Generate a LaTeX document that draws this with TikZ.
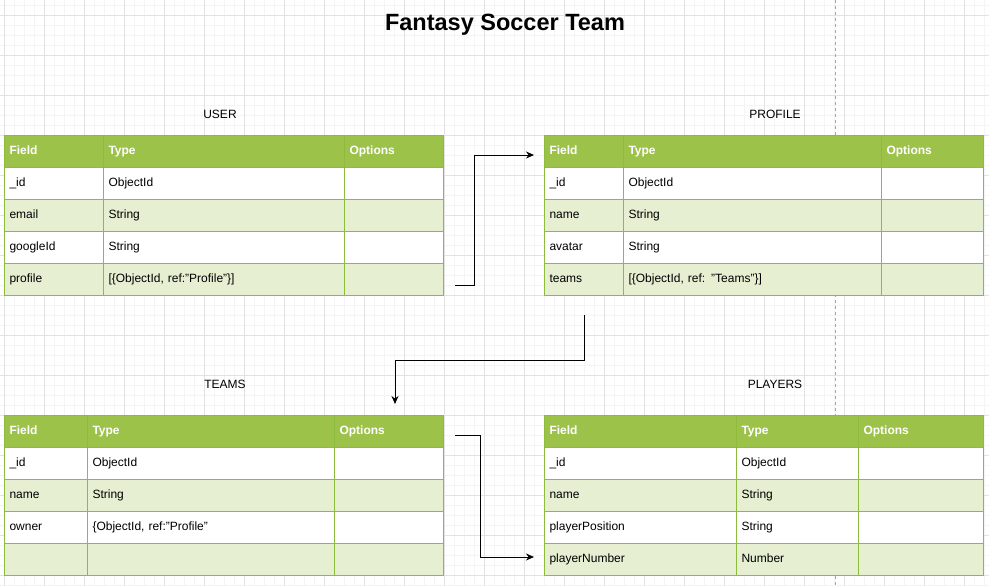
\documentclass[tikz,border=0pt]{standalone}
\usepackage{fontspec}
\setmainfont{Liberation Sans}
\usetikzlibrary{arrows.meta}
\definecolor{hdrg}{HTML}{9CC24A}
\definecolor{lightg}{HTML}{E6EFD1}
\definecolor{bord}{HTML}{8DBB3C}
\definecolor{majg}{HTML}{E2E2E2}
\definecolor{ming}{HTML}{F4F4F4}
\tikzset{
  cellbox/.style={draw=bord, line width=1pt, anchor=north west, minimum height=32pt,
    inner xsep=5pt, inner ysep=0pt, align=left, text height=9pt, text depth=3pt,
    font=\fontsize{12}{14}\selectfont},
  hdrcell/.style={cellbox, fill=hdrg, text=white, font=\fontsize{12}{14}\selectfont\bfseries},
  tlabel/.style={font=\fontsize{12}{14}\selectfont, inner sep=0pt},
  conn/.style={draw=black, line width=1pt, -{Stealth[length=8pt,width=7pt]}},
  minorline/.style={draw=ming, line width=0.6pt},
  majorline/.style={draw=majg, line width=0.8pt}
}
\newcommand\mycell[6]{%
  \pgfmathsetmacro\mytw{#4-10}%
  \node[cellbox, fill=#5, text width=\mytw pt, minimum width=#4pt] (#1) at (#2,#3) {#6};}
\newcommand\myhcell[5]{%
  \pgfmathsetmacro\mytw{#4-10}%
  \node[hdrcell, text width=\mytw pt, minimum width=#4pt] (#1) at (#2,#3) {#5};}
\begin{document}
\begin{tikzpicture}[x=1pt,y=-1pt]
\useasboundingbox (0,0) rectangle (989,586);
\fill[white] (0,0) rectangle (989,586);
% grid
\foreach \x in {4,14,...,984} \draw[minorline] (\x,0) -- (\x,586);
\foreach \y in {5,15,...,585} \draw[minorline] (0,\y) -- (989,\y);
\foreach \x in {4,44,...,984} \draw[majorline] (\x,0) -- (\x,586);
\foreach \y in {15,55,...,575} \draw[majorline] (0,\y) -- (989,\y);
\draw[draw=black!35, line width=0.8pt, dash pattern=on 3pt off 3pt] (835,0) -- (835,586);
% title
\node[font=\fontsize{23.5}{27}\selectfont\bfseries, inner sep=0pt] (title) at (505,25) {Fantasy Soccer Team};
% labels
\node[tlabel] (luser) at (220,114) {USER};
\node[tlabel] (lprof) at (775,114) {PROFILE};
\node[tlabel] (lteams) at (225,384) {TEAMS};
\node[tlabel] (lplay) at (775,384) {PLAYERS};
% USER table
\myhcell{u00}{4}{135}{99}{Field}
\myhcell{u01}{103}{135}{241}{Type}
\myhcell{u02}{344}{135}{99}{Options}
\mycell{u10}{4}{167}{99}{white}{\_id}
\mycell{u11}{103}{167}{241}{white}{ObjectId}
\mycell{u12}{344}{167}{99}{white}{}
\mycell{u20}{4}{199}{99}{lightg}{email}
\mycell{u21}{103}{199}{241}{lightg}{String}
\mycell{u22}{344}{199}{99}{lightg}{}
\mycell{u30}{4}{231}{99}{white}{googleId}
\mycell{u31}{103}{231}{241}{white}{String}
\mycell{u32}{344}{231}{99}{white}{}
\mycell{u40}{4}{263}{99}{lightg}{profile}
\mycell{u41}{103}{263}{241}{lightg}{[\{ObjectId, ref:"Profile"\}]}
\mycell{u42}{344}{263}{99}{lightg}{}
% PROFILE table
\myhcell{p00}{544}{135}{79}{Field}
\myhcell{p01}{623}{135}{258}{Type}
\myhcell{p02}{881}{135}{102}{Options}
\mycell{p10}{544}{167}{79}{white}{\_id}
\mycell{p11}{623}{167}{258}{white}{ObjectId}
\mycell{p12}{881}{167}{102}{white}{}
\mycell{p20}{544}{199}{79}{lightg}{name}
\mycell{p21}{623}{199}{258}{lightg}{String}
\mycell{p22}{881}{199}{102}{lightg}{}
\mycell{p30}{544}{231}{79}{white}{avatar}
\mycell{p31}{623}{231}{258}{white}{String}
\mycell{p32}{881}{231}{102}{white}{}
\mycell{p40}{544}{263}{79}{lightg}{teams}
\mycell{p41}{623}{263}{258}{lightg}{[\{ObjectId, ref: "Teams"\}]}
\mycell{p42}{881}{263}{102}{lightg}{}
% TEAMS table
\myhcell{t00}{4}{415}{83}{Field}
\myhcell{t01}{87}{415}{247}{Type}
\myhcell{t02}{334}{415}{109}{Options}
\mycell{t10}{4}{447}{83}{white}{\_id}
\mycell{t11}{87}{447}{247}{white}{ObjectId}
\mycell{t12}{334}{447}{109}{white}{}
\mycell{t20}{4}{479}{83}{lightg}{name}
\mycell{t21}{87}{479}{247}{lightg}{String}
\mycell{t22}{334}{479}{109}{lightg}{}
\mycell{t30}{4}{511}{83}{white}{owner}
\mycell{t31}{87}{511}{247}{white}{\{ObjectId, ref:"Profile"}
\mycell{t32}{334}{511}{109}{white}{}
\mycell{t40}{4}{543}{83}{lightg}{}
\mycell{t41}{87}{543}{247}{lightg}{}
\mycell{t42}{334}{543}{109}{lightg}{}
% PLAYERS table
\myhcell{q00}{544}{415}{192}{Field}
\myhcell{q01}{736}{415}{122}{Type}
\myhcell{q02}{858}{415}{125}{Options}
\mycell{q10}{544}{447}{192}{white}{\_id}
\mycell{q11}{736}{447}{122}{white}{ObjectId}
\mycell{q12}{858}{447}{125}{white}{}
\mycell{q20}{544}{479}{192}{lightg}{name}
\mycell{q21}{736}{479}{122}{lightg}{String}
\mycell{q22}{858}{479}{125}{lightg}{}
\mycell{q30}{544}{511}{192}{white}{playerPosition}
\mycell{q31}{736}{511}{122}{white}{String}
\mycell{q32}{858}{511}{125}{white}{}
\mycell{q40}{544}{543}{192}{lightg}{playerNumber}
\mycell{q41}{736}{543}{122}{lightg}{Number}
\mycell{q42}{858}{543}{125}{lightg}{}
% connectors
\coordinate (c1s) at (455,285);
\coordinate (c1e) at (534,155);
\coordinate (c2s) at (584,315);
\coordinate (c2e) at (395,404);
\coordinate (c3s) at (455,435);
\coordinate (c3e) at (534,557);
\draw[conn] (c1s) -- ++(19,0) |- (c1e);
\draw[conn] (c2s) -- ++(0,45) -| (c2e);
\draw[conn] (c3s) -- ++(25,0) |- (c3e);
\end{tikzpicture}
\end{document}
